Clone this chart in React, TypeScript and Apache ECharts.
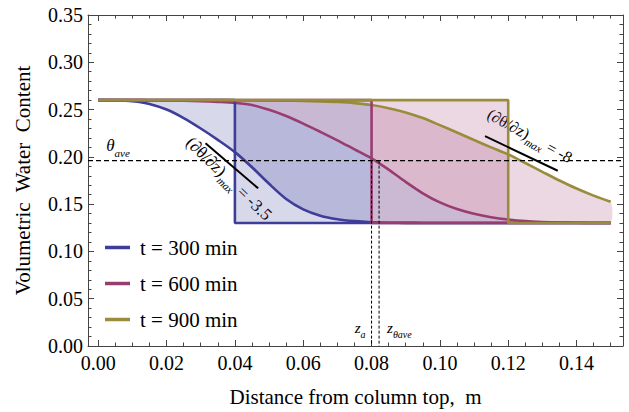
import { useEffect, useRef } from "react";
import * as echarts from "echarts";

// Depth below the column top (m) at which each profile is sampled
const DEPTH = [
  0, 0.005, 0.01, 0.015, 0.02, 0.025, 0.03, 0.035, 0.04, 0.045, 0.05, 0.055, 0.06, 0.065, 0.07, 0.075,
  0.08, 0.085, 0.09, 0.095, 0.1, 0.105, 0.11, 0.115, 0.12, 0.125, 0.13, 0.135, 0.14, 0.145, 0.15,
];

// Volumetric water content profiles
const THETA_300 = [
  0.26, 0.2598, 0.2588, 0.256, 0.25, 0.241, 0.23, 0.218, 0.205, 0.189, 0.1715, 0.1555, 0.1445, 0.1378,
  0.134, 0.132, 0.1309, 0.1304, 0.1302, 0.1301, 0.13, 0.13, 0.13, 0.13, 0.13, 0.13, 0.13, 0.13, 0.13,
  0.13, 0.13,
];
const THETA_600 = [
  0.26, 0.26, 0.26, 0.2599, 0.2597, 0.2594, 0.2589, 0.2581, 0.257, 0.2548, 0.2497, 0.2432, 0.2352,
  0.2265, 0.2175, 0.208, 0.1985, 0.1865, 0.1735, 0.1615, 0.1518, 0.1448, 0.1398, 0.1362, 0.1337, 0.132,
  0.1311, 0.1306, 0.1303, 0.1301, 0.13,
];
const THETA_900 = [
  0.26, 0.26, 0.26, 0.26, 0.26, 0.26, 0.26, 0.26, 0.2599, 0.2598, 0.2597, 0.2595, 0.2592, 0.2587,
  0.258, 0.2568, 0.2548, 0.2515, 0.247, 0.241, 0.2335, 0.2258, 0.2178, 0.21, 0.2025, 0.1935, 0.1842,
  0.175, 0.1665, 0.159, 0.1525,
];

// Sharp-front (piston) approximation of each profile
const THETA_INITIAL = 0.26;
const THETA_RESIDUAL = 0.13;
const FRONT_300 = 0.04;
const FRONT_600 = 0.08;
const FRONT_900 = 0.12;

// Average water content and the depths marked on the 600 min profile
const THETA_AVE = 0.196;
const Z_A = 0.08;
const Z_THETA_AVE = 0.0822;

// Steepest-gradient tangents
const TANGENT_300 = [
  [0.0314, 0.2143],
  [0.0468, 0.1667],
];
const TANGENT_900 = [
  [0.1132, 0.222],
  [0.1345, 0.1853],
];
const SLOPE_300 = "-3.5";
const SLOPE_900 = "-8";

const LEGEND_NAMES = ["t = 300 min", "t = 600 min", "t = 900 min"];
const X_MAJOR = [0, 0.02, 0.04, 0.06, 0.08, 0.1, 0.12, 0.14];
const X_MINOR = [
  0, 0.005, 0.01, 0.015, 0.02, 0.025, 0.03, 0.035, 0.04, 0.045, 0.05, 0.055, 0.06, 0.065, 0.07, 0.075,
  0.08, 0.085, 0.09, 0.095, 0.1, 0.105, 0.11, 0.115, 0.12, 0.125, 0.13, 0.135, 0.14, 0.145, 0.15,
];

const X_MIN = -0.003;
const X_MAX = 0.1536;

const BLUE = "#3e3d99";
const PURPLE = "#993d71";
const OLIVE = "#998c3d";
const BLUE_FILL = "rgba(62,61,153,0.2)";
const PURPLE_FILL = "rgba(153,61,113,0.2)";

const SERIF = "Liberation Serif";
const FRAME = "#444";

const pairs = (ys: number[]) => DEPTH.map((z, i) => [z, ys[i]]);
const step = (front: number) => [
  [0, THETA_INITIAL],
  [front, THETA_INITIAL],
  [front, THETA_RESIDUAL],
  [DEPTH[DEPTH.length - 1], THETA_RESIDUAL],
];

// Area between two profiles, filled as one polygon
function band(upper: number[], lower: number[], fill: string) {
  return {
    type: "custom",
    silent: true,
    z: 1,
    data: [[0, THETA_INITIAL]],
    renderItem: (_p: any, api: any) => {
      const pts: number[][] = [];
      DEPTH.forEach((z, i) => pts.push(api.coord([z, upper[i]])));
      for (let i = DEPTH.length - 1; i >= 0; i--) pts.push(api.coord([DEPTH[i], lower[i]]));
      return { type: "polygon", shape: { points: pts, smooth: 0.25 }, style: { fill } };
    },
  };
}

// Rectangle between two successive sharp fronts
function frontBox(z0: number, z1: number, fill: string) {
  return {
    type: "custom",
    silent: true,
    z: 1,
    data: [[z0, THETA_RESIDUAL, z1, THETA_INITIAL]],
    renderItem: (_p: any, api: any) => {
      const a = api.coord([api.value(0), api.value(3)]);
      const b = api.coord([api.value(2), api.value(1)]);
      return {
        type: "rect",
        shape: { x: a[0], y: a[1], width: b[0] - a[0], height: b[1] - a[1] },
        style: { fill },
      };
    },
  };
}

const curve = (name: string, ys: number[], color: string) => ({
  type: "line",
  name,
  data: pairs(ys),
  symbol: "none",
  showSymbol: false,
  smooth: 0.3,
  z: 3,
  lineStyle: { color, width: 2.6 },
  itemStyle: { color },
});

const stepLine = (name: string, front: number, color: string) => ({
  type: "line",
  name,
  data: step(front),
  symbol: "none",
  z: 4,
  lineStyle: { color, width: 2.6 },
  itemStyle: { color },
});

const refLine = (name: string, data: number[][], dash: number[], width: number) => ({
  type: "line",
  name,
  data,
  symbol: "none",
  z: 5,
  lineStyle: { color: "#000", width, type: dash },
});

const tickLabel = { fontFamily: SERIF, fontSize: 20, color: "#000" };

function xAxis(position: string, values: number[], length: number, labels: boolean, line: boolean) {
  return {
    type: "value",
    position,
    min: X_MIN,
    max: X_MAX,
    axisLine: { show: line, onZero: false, lineStyle: { color: FRAME, width: 1 } },
    axisTick: {
      show: true,
      inside: true,
      length,
      customValues: values,
      lineStyle: { color: FRAME, width: 1 },
    },
    axisLabel: labels
      ? { show: true, customValues: X_MAJOR, margin: 7, formatter: (v: number) => v.toFixed(2), ...tickLabel }
      : { show: false },
    splitLine: { show: false },
  };
}

function yAxis(position: string, labels: boolean) {
  return {
    type: "value",
    position,
    min: 0,
    max: 0.35,
    interval: 0.05,
    axisLine: { show: true, onZero: false, lineStyle: { color: FRAME, width: 1 } },
    axisTick: { show: true, inside: true, length: 6, lineStyle: { color: FRAME, width: 1 } },
    minorTick: { show: true, splitNumber: 5, length: 3.5, lineStyle: { color: FRAME, width: 1 } },
    axisLabel: labels
      ? { show: true, margin: 5, formatter: (v: number) => v.toFixed(2), ...tickLabel }
      : { show: false },
    splitLine: { show: false },
    minorSplitLine: { show: false },
  };
}

export default function App() {
  const ref = useRef<HTMLDivElement>(null);

  useEffect(() => {
    const chart = echarts.init(ref.current!, null, { renderer: "svg" });
    chart.setOption({
      animation: false,
      textStyle: { fontFamily: SERIF },
      grid: { left: 88, right: 6, top: 15, bottom: 66, containLabel: false, outerBoundsMode: "none" },
      legend: {
        data: LEGEND_NAMES.map((name) => ({
          name,
          textStyle: { fontFamily: SERIF, fontSize: 21, color: "#000" },
        })),
        orient: "vertical",
        left: 100,
        top: 232,
        icon: "rect",
        itemWidth: 25,
        itemHeight: 3.5,
        itemGap: 15,
        selectedMode: false,
        textStyle: { fontFamily: SERIF, fontSize: 21, color: "#000", padding: [0, 0, 0, 5] },
      },
      xAxis: [
        {
          ...xAxis("bottom", X_MAJOR, 6, true, true),
          name: "Distance from column top,  m",
          nameLocation: "middle",
          nameGap: 40,
          nameTextStyle: { fontFamily: SERIF, fontSize: 21, color: "#000" },
        },
        xAxis("bottom", X_MINOR, 3.5, false, false),
        xAxis("top", X_MAJOR, 6, false, true),
        xAxis("top", X_MINOR, 3.5, false, false),
      ],
      yAxis: [
        {
          ...yAxis("left", true),
          name: "Volumetric  Water  Content",
          nameLocation: "middle",
          nameGap: 55,
          nameTextStyle: { fontFamily: SERIF, fontSize: 21, color: "#000" },
        },
        yAxis("right", false),
      ],
      series: [
        band(THETA_600, THETA_300, BLUE_FILL),
        band(THETA_900, THETA_600, PURPLE_FILL),
        frontBox(FRONT_300, FRONT_600, BLUE_FILL),
        frontBox(FRONT_600, FRONT_900, PURPLE_FILL),
        curve(LEGEND_NAMES[0], THETA_300, BLUE),
        curve(LEGEND_NAMES[1], THETA_600, PURPLE),
        curve(LEGEND_NAMES[2], THETA_900, OLIVE),
        stepLine("front 300", FRONT_300, BLUE),
        stepLine("front 600", FRONT_600, PURPLE),
        stepLine("front 900", FRONT_900, OLIVE),
        refLine("theta ave", [[X_MIN, THETA_AVE], [X_MAX, THETA_AVE]], [5, 3], 1.2),
        refLine("z a", [[Z_A, THETA_AVE], [Z_A, 0]], [3, 2], 1),
        refLine("z theta ave", [[Z_THETA_AVE, THETA_AVE], [Z_THETA_AVE, 0]], [3, 2], 1),
        refLine("tangent 300", TANGENT_300, [], 2),
        refLine("tangent 900", TANGENT_900, [], 2),
      ],
    });

    const px = (p: number[]) =>
      chart.convertToPixel({ xAxisIndex: 0, yAxisIndex: 0 }, p) as unknown as number[];
    const mid = (t: number[][]) => px([(t[0][0] + t[1][0]) / 2, (t[0][1] + t[1][1]) / 2]);

    const subRich = (main: number, sub: number, italicMain: boolean) => ({
      m: {
        fontFamily: SERIF,
        fontSize: main,
        fontStyle: italicMain ? "italic" : "normal",
        lineHeight: main + 2,
        padding: [0, 0, 4, 0],
        verticalAlign: "bottom",
        fill: "#000",
      },
      s: {
        fontFamily: SERIF,
        fontSize: sub,
        fontStyle: "italic",
        lineHeight: sub + 1,
        verticalAlign: "bottom",
        fill: "#000",
      },
    });

    const thetaAt = px([0, THETA_AVE]);
    const zaAt = px([Z_A, 0]);
    const ztAt = px([Z_THETA_AVE, 0]);
    const t300 = mid(TANGENT_300);
    const t900 = mid(TANGENT_900);

    chart.setOption({
      graphic: [
        {
          type: "text",
          x: thetaAt[0] + 8,
          y: thetaAt[1] - 12,
          silent: true,
          style: {
            text: "{m|θ}{s|ave}",
            rich: subRich(17, 11, true),
            align: "left",
            verticalAlign: "middle",
          },
        },
        {
          type: "text",
          x: zaAt[0] - 6,
          y: zaAt[1] - 15,
          silent: true,
          style: {
            text: "{m|z}{s|a}",
            rich: subRich(15, 10, true),
            align: "right",
            verticalAlign: "middle",
          },
        },
        {
          type: "text",
          x: ztAt[0] + 8,
          y: ztAt[1] - 15,
          silent: true,
          style: {
            text: "{m|z}{s|θave}",
            rich: subRich(15, 10, true),
            align: "left",
            verticalAlign: "middle",
          },
        },
        {
          type: "text",
          x: t300[0] - 5,
          y: t300[1] + 15,
          rotation: (-44 * Math.PI) / 180,
          silent: true,
          style: {
            text: "{m|(∂θ/∂z)}{s|max}{m| = " + SLOPE_300 + "}",
            rich: subRich(17, 11, false),
            align: "center",
            verticalAlign: "middle",
          },
        },
        {
          type: "text",
          x: t900[0] + 7,
          y: t900[1] - 15,
          rotation: (-29 * Math.PI) / 180,
          silent: true,
          style: {
            text: "{m|(∂θ/∂z)}{s|max}{m| = " + SLOPE_900 + "}",
            rich: subRich(16, 11, false),
            align: "center",
            verticalAlign: "middle",
          },
        },
      ],
    });

    return () => chart.dispose();
  }, []);

  return (
    <div
      ref={ref}
      style={{ position: "fixed", left: 0, top: 0, width: 629, height: 412, background: "#fff" }}
    />
  );
}
